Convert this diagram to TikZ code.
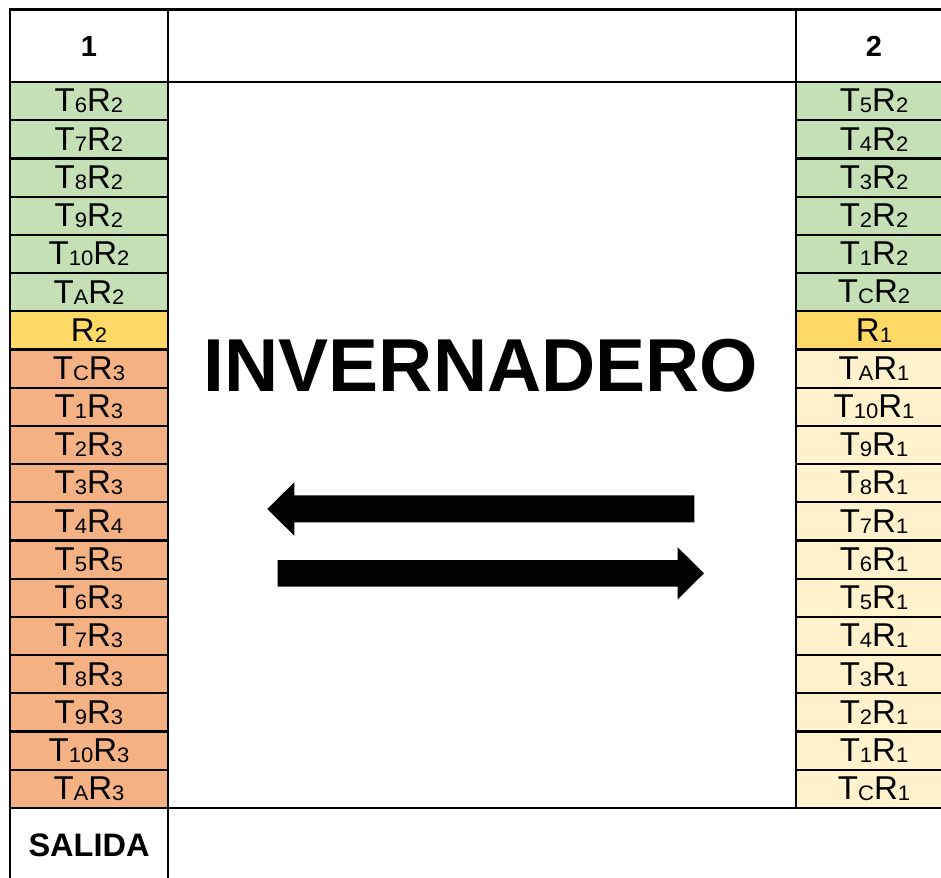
\documentclass[tikz,border=0pt]{standalone}
\usepackage{fontspec}
\setmainfont{Liberation Sans}
\definecolor{cgreen}{HTML}{C5E0B4}
\definecolor{cyel}{HTML}{FFD966}
\definecolor{corange}{HTML}{F4B183}
\definecolor{clight}{HTML}{FFF2CC}
\newcommand\subx[1]{\raisebox{-1pt}{\scalebox{1.05}[1]{\fontsize{21}{21}\selectfont #1}}}
\begin{document}
\begin{tikzpicture}[x=1pt,y=-1pt,
  gridline/.style={line width=2.4pt,black},
  cell/.style={draw=black,line width=2.2pt,minimum height=38.21pt,inner sep=0pt,
    font=\fontsize{33}{33}\selectfont},
  cellL/.style={cell,minimum width=158pt},
  cellR/.style={cell,minimum width=156pt},
  head/.style={font=\fontsize{29}{29}\selectfont\bfseries,anchor=base,inner sep=0pt},
  bigarrow/.style={fill=black,draw=none}]
\useasboundingbox (0,0) rectangle (941,877);
\clip (0,0) rectangle (941,877);
\fill[white] (0,0) rectangle (941,877);
% left column cells
\foreach \i/\t/\c in {
 1/{T\subx{6}R\subx{2}}/cgreen,
 2/{T\subx{7}R\subx{2}}/cgreen,
 3/{T\subx{8}R\subx{2}}/cgreen,
 4/{T\subx{9}R\subx{2}}/cgreen,
 5/{T\subx{10}R\subx{2}}/cgreen,
 6/{T\subx{A}R\subx{2}}/cgreen,
 7/{R\subx{2}}/cyel,
 8/{T\subx{C}R\subx{3}}/corange,
 9/{T\subx{1}R\subx{3}}/corange,
 10/{T\subx{2}R\subx{3}}/corange,
 11/{T\subx{3}R\subx{3}}/corange,
 12/{T\subx{4}R\subx{4}}/corange,
 13/{T\subx{5}R\subx{5}}/corange,
 14/{T\subx{6}R\subx{3}}/corange,
 15/{T\subx{7}R\subx{3}}/corange,
 16/{T\subx{8}R\subx{3}}/corange,
 17/{T\subx{9}R\subx{3}}/corange,
 18/{T\subx{10}R\subx{3}}/corange,
 19/{T\subx{A}R\subx{3}}/corange}{
 \node[cellL,fill=\c] (L\i) at (89,{82+(\i-0.5)*38.21}) {\t};
}
% right column cells
\foreach \i/\t/\c in {
 1/{T\subx{5}R\subx{2}}/cgreen,
 2/{T\subx{4}R\subx{2}}/cgreen,
 3/{T\subx{3}R\subx{2}}/cgreen,
 4/{T\subx{2}R\subx{2}}/cgreen,
 5/{T\subx{1}R\subx{2}}/cgreen,
 6/{T\subx{C}R\subx{2}}/cgreen,
 7/{R\subx{1}}/cyel,
 8/{T\subx{A}R\subx{1}}/clight,
 9/{T\subx{10}R\subx{1}}/clight,
 10/{T\subx{9}R\subx{1}}/clight,
 11/{T\subx{8}R\subx{1}}/clight,
 12/{T\subx{7}R\subx{1}}/clight,
 13/{T\subx{6}R\subx{1}}/clight,
 14/{T\subx{5}R\subx{1}}/clight,
 15/{T\subx{4}R\subx{1}}/clight,
 16/{T\subx{3}R\subx{1}}/clight,
 17/{T\subx{2}R\subx{1}}/clight,
 18/{T\subx{1}R\subx{1}}/clight,
 19/{T\subx{C}R\subx{1}}/clight}{
 \node[cellR,fill=\c] (R\i) at (874,{82+(\i-0.5)*38.21}) {\t};
}
% grid lines
\draw[gridline] (10,9.5) -- (945,9.5);
\draw[gridline] (10,82) -- (945,82);
\draw[gridline] (10,808) -- (945,808);
\draw[gridline] (10,8.3) -- (10,880);
\draw[gridline] (168,8.3) -- (168,880);
\draw[gridline] (796,8.3) -- (796,809.2);
% headers
\node[head] (h1) at (89,57) {1};
\node[head] (h2) at (874,57) {2};
\node[head,font=\fontsize{32.5}{32.5}\selectfont\bfseries] (salida) at (89,856) {SALIDA};
\node[anchor=base,inner sep=0pt,font=\fontsize{75}{75}\selectfont\bfseries] (title) at (481,391.7) {INVERNADERO};
% arrows
\fill[bigarrow] (694.3,495.3) -- (294.3,495.3) -- (294.3,482.3) -- (267.3,509) -- (294.3,535.7) -- (294.3,522.3) -- (694.3,522.3) -- cycle;
\fill[bigarrow] (277.7,560) -- (677.7,560) -- (677.7,547.3) -- (704,573.3) -- (677.7,599.3) -- (677.7,586.7) -- (277.7,586.7) -- cycle;
\end{tikzpicture}
\end{document}
